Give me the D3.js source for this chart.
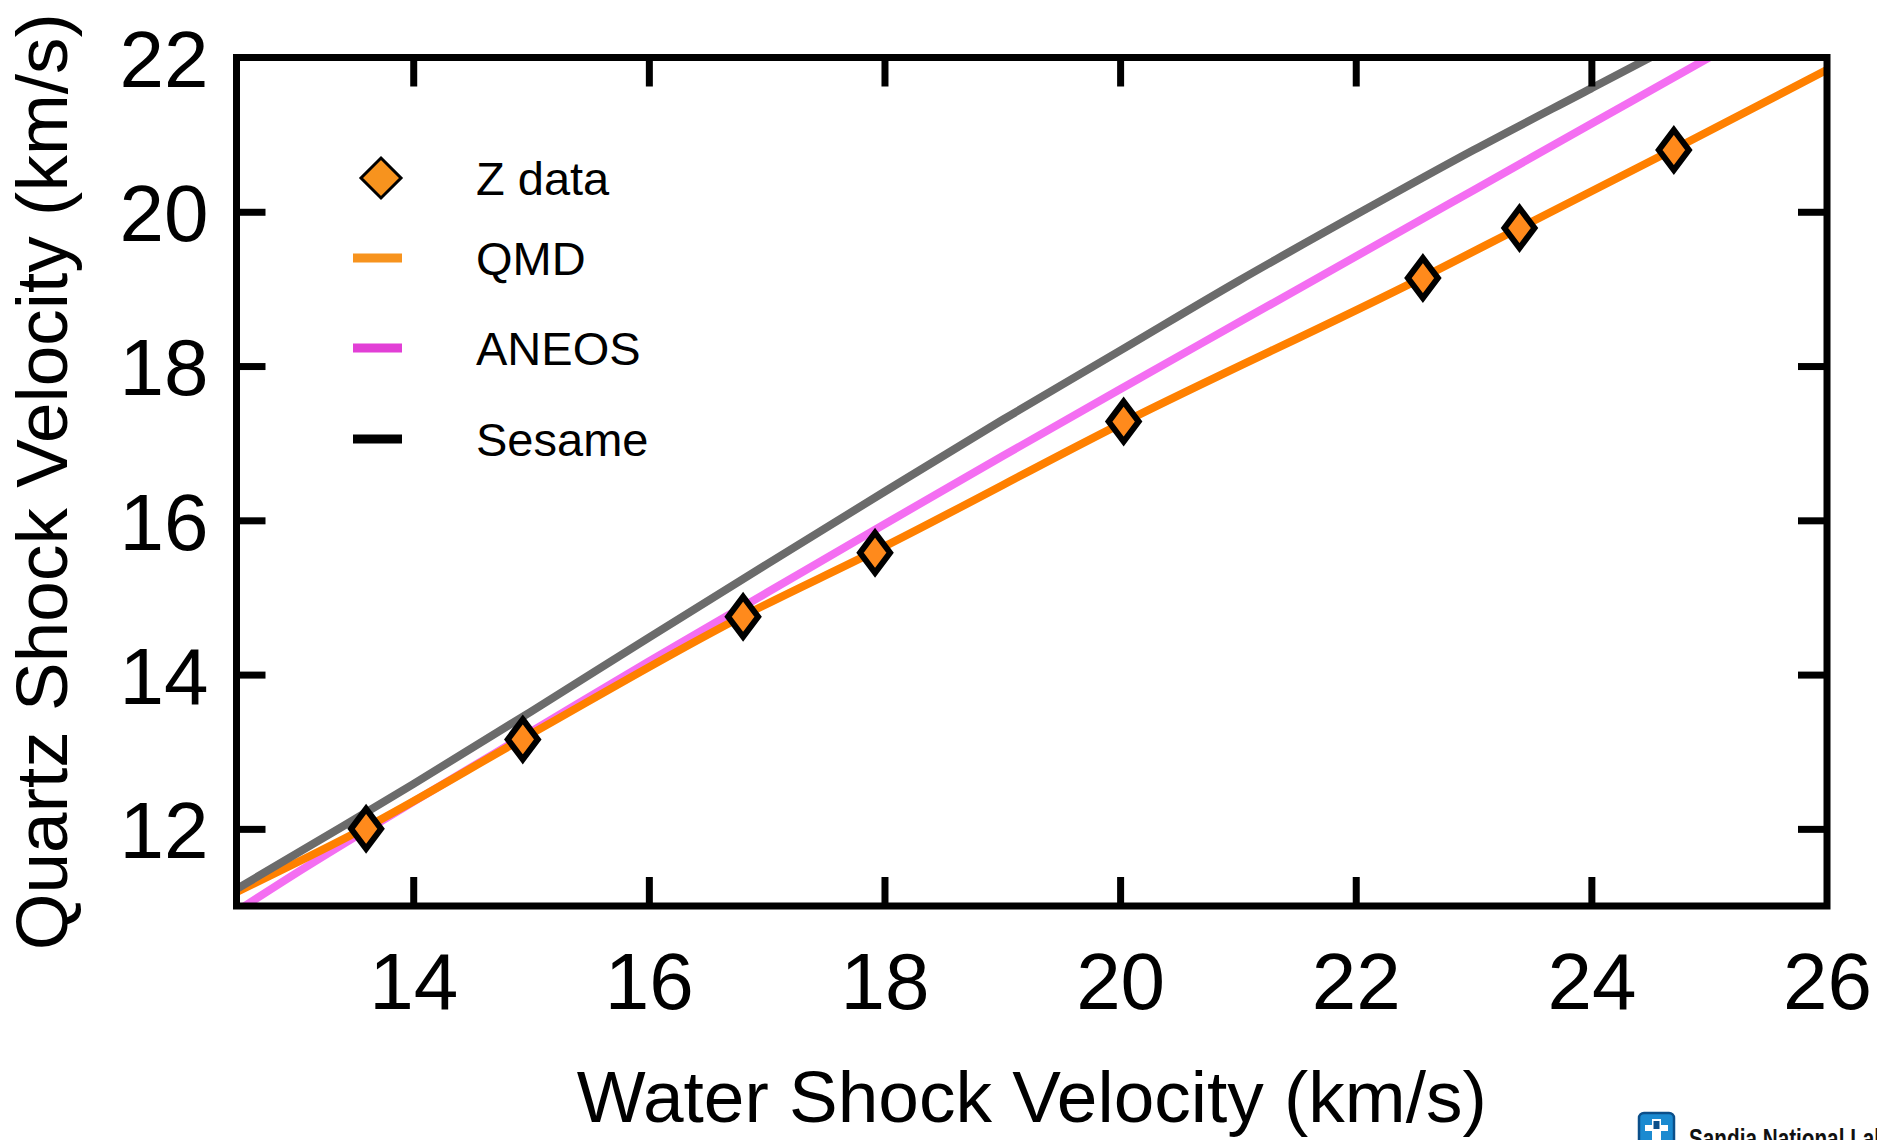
<!DOCTYPE html>
<html>
<head>
<meta charset="utf-8">
<script src="https://cdn.jsdelivr.net/npm/d3@7"></script>
<style>
  html, body { margin: 0; padding: 0; background: #ffffff; }
  svg { display: block; }
</style>
</head>
<body>
<svg id="chart" width="1877" height="1140"></svg>
<script>
// ---------- data ----------
const xTicks = [14, 16, 18, 20, 22, 24, 26];
const yTicks = [12, 14, 16, 18, 20, 22];

// Z data (diamonds)
const zWater  = [13.60, 14.93, 16.80, 17.92, 20.03, 22.57, 23.39, 24.70];
const zQuartz = [12.00, 13.16, 14.75, 15.58, 17.28, 19.14, 19.79, 20.80];

// QMD (orange)
const qmdWater  = [12.5, 13.6, 14.93, 16.8, 17.92, 20.03, 22.57, 23.39, 24.7, 26.0];
const qmdQuartz = [11.18, 12.02, 13.17, 14.76, 15.60, 17.27, 19.15, 19.79, 20.81, 21.84];

// ANEOS (pink)
const aneosWater  = [12.5, 13, 13.5, 14, 15, 16, 17, 18, 19, 20, 21, 22, 23, 24, 25, 25.5];
const aneosQuartz = [10.93, 11.42, 11.89, 12.35, 13.26, 14.17, 15.06, 15.95, 16.83, 17.70, 18.56, 19.42, 20.28, 21.14, 22.00, 22.42];

// Sesame (gray)
const sesameWater  = [12.5, 13.4, 14, 15, 16, 17, 18, 19, 20, 21, 22, 23, 24, 25];
const sesameQuartz = [11.22, 12.03, 12.58, 13.52, 14.48, 15.43, 16.37, 17.30, 18.20, 19.10, 19.96, 20.80, 21.60, 22.40];

const legendNames = ["Z data", "QMD", "ANEOS", "Sesame"];
const xTitle = "Water Shock Velocity (km/s)";
const yTitle = "Quartz Shock Velocity (km/s)";
const logoText = "Sandia National Laboratories";

// ---------- layout ----------
const svg = d3.select("#chart");
const L = 236.5, R = 1827, T = 57.5, B = 906;
const FONT = "'Liberation Sans', Arial, Helvetica, sans-serif";

const x = d3.scaleLinear().domain([12.5, 26]).range([L, R]);
const y = d3.scaleLinear().domain([11, 22]).range([B, T]);

const plotColors = { QMD: "#ff8000", ANEOS: "#f46ef2", Sesame: "#6b6b6b" };
const legendColors = { QMD: "#f7931e", ANEOS: "#e23fd6", Sesame: "#000000" };

svg.append("defs").append("clipPath").attr("id", "plotclip")
  .append("rect").attr("x", L).attr("y", T).attr("width", R - L).attr("height", B - T);

// ---------- lines ----------
const line = d3.line().x(d => x(d[0])).y(d => y(d[1])).curve(d3.curveMonotoneX);
const series = [
  { name: "ANEOS", xs: aneosWater, ys: aneosQuartz },
  { name: "QMD", xs: qmdWater, ys: qmdQuartz },
  { name: "Sesame", xs: sesameWater, ys: sesameQuartz }
];
const gLines = svg.append("g").attr("clip-path", "url(#plotclip)");
series.forEach(s => {
  gLines.append("path")
    .datum(s.xs.map((v, i) => [v, s.ys[i]]))
    .attr("d", line)
    .attr("fill", "none")
    .attr("stroke", plotColors[s.name])
    .attr("stroke-width", 8)
    .attr("stroke-linejoin", "round");
});

// ---------- diamonds ----------
const dw = 15, dh = 20;
const diamond = `M0,${-dh}L${dw},0L0,${dh}L${-dw},0Z`;
svg.append("g").selectAll("path").data(zWater.map((v, i) => [v, zQuartz[i]]))
  .join("path")
  .attr("d", diamond)
  .attr("transform", d => `translate(${x(d[0])},${y(d[1])})`)
  .attr("fill", "#ff8a1c")
  .attr("stroke", "#000")
  .attr("stroke-width", 6);

// ---------- axes ----------
const tickLen = 29;
function styleAxis(g, showText) {
  g.select(".domain").remove();
  g.selectAll(".tick line").attr("stroke", "#000").attr("stroke-width", 7);
  g.selectAll(".tick text")
    .attr("fill", "#000")
    .style("font-family", FONT)
    .style("font-size", "80px");
  if (!showText) g.selectAll(".tick text").remove();
}
const innerX = xTicks.filter(t => t > 12.5 && t < 26);
const innerY = yTicks.filter(t => t > 11 && t < 22);

const gxB = svg.append("g").attr("transform", `translate(0,${B})`)
  .call(d3.axisBottom(x).tickValues(xTicks).tickSize(-tickLen).tickPadding(46).tickFormat(d3.format("d")));
styleAxis(gxB, true);
gxB.selectAll(".tick").filter(d => innerX.indexOf(d) < 0).select("line").remove();

const gxT = svg.append("g").attr("transform", `translate(0,${T})`)
  .call(d3.axisTop(x).tickValues(innerX).tickSize(-tickLen));
styleAxis(gxT, false);

const gyL = svg.append("g").attr("transform", `translate(${L},0)`)
  .call(d3.axisLeft(y).tickValues(yTicks).tickSize(-tickLen).tickPadding(28).tickFormat(d3.format("d")));
styleAxis(gyL, true);
gyL.selectAll(".tick text").attr("dy", "0.36em");
gyL.selectAll(".tick").filter(d => innerY.indexOf(d) < 0).select("line").remove();

const gyR = svg.append("g").attr("transform", `translate(${R},0)`)
  .call(d3.axisRight(y).tickValues(innerY).tickSize(-tickLen));
styleAxis(gyR, false);

// frame
svg.append("rect")
  .attr("x", L).attr("y", T).attr("width", R - L).attr("height", B - T)
  .attr("fill", "none").attr("stroke", "#000").attr("stroke-width", 7)
  .attr("stroke-linejoin", "miter");

// ---------- axis titles ----------
svg.append("text")
  .attr("x", (L + R) / 2).attr("y", 1122)
  .attr("text-anchor", "middle")
  .style("font-family", FONT).style("font-size", "73px")
  .attr("fill", "#000")
  .text(xTitle);

svg.append("text")
  .attr("transform", `translate(67,${(T + B) / 2}) rotate(-90)`)
  .attr("text-anchor", "middle")
  .style("font-family", FONT).style("font-size", "73px")
  .attr("fill", "#000")
  .text(yTitle);

// ---------- legend ----------
const legY = [178, 258, 348, 439];
const lg = svg.append("g");
legendNames.forEach((name, i) => {
  const cy = legY[i];
  if (name === "Z data") {
    lg.append("path")
      .attr("d", "M0,-20L20,0L0,20L-20,0Z")
      .attr("transform", `translate(381,${cy})`)
      .attr("fill", "#f7931e").attr("stroke", "#000").attr("stroke-width", 3);
  } else {
    lg.append("line")
      .attr("x1", 353).attr("x2", 402).attr("y1", cy).attr("y2", cy)
      .attr("stroke", legendColors[name]).attr("stroke-width", 9);
  }
  lg.append("text")
    .attr("x", 476).attr("y", cy + 16.5)
    .style("font-family", FONT).style("font-size", "47px")
    .attr("fill", "#000")
    .text(name);
});

// ---------- Sandia logo (cut off at page edge, as in the original) ----------
const logo = svg.append("g");
logo.append("rect").attr("x", 1639).attr("y", 1113).attr("width", 35).attr("height", 32).attr("rx", 5)
  .attr("fill", "#1b8ad0").attr("stroke", "#0b4f8a").attr("stroke-width", 2.5);
logo.append("path")
  .attr("d", "M1652,1119h9v6h7v6h-7v10h-9v-10h-7v-6h7z")
  .attr("fill", "#ffffff");
logo.append("path")
  .attr("d", "M1653.5,1121h6v8h-6z")
  .attr("fill", "#0b4f8a");
logo.append("text")
  .attr("transform", "translate(1689,1148) scale(0.74,1)")
  .style("font-family", FONT)
  .style("font-size", "28px").style("font-weight", "bold")
  .attr("fill", "#111")
  .text(logoText);
</script>
</body>
</html>
